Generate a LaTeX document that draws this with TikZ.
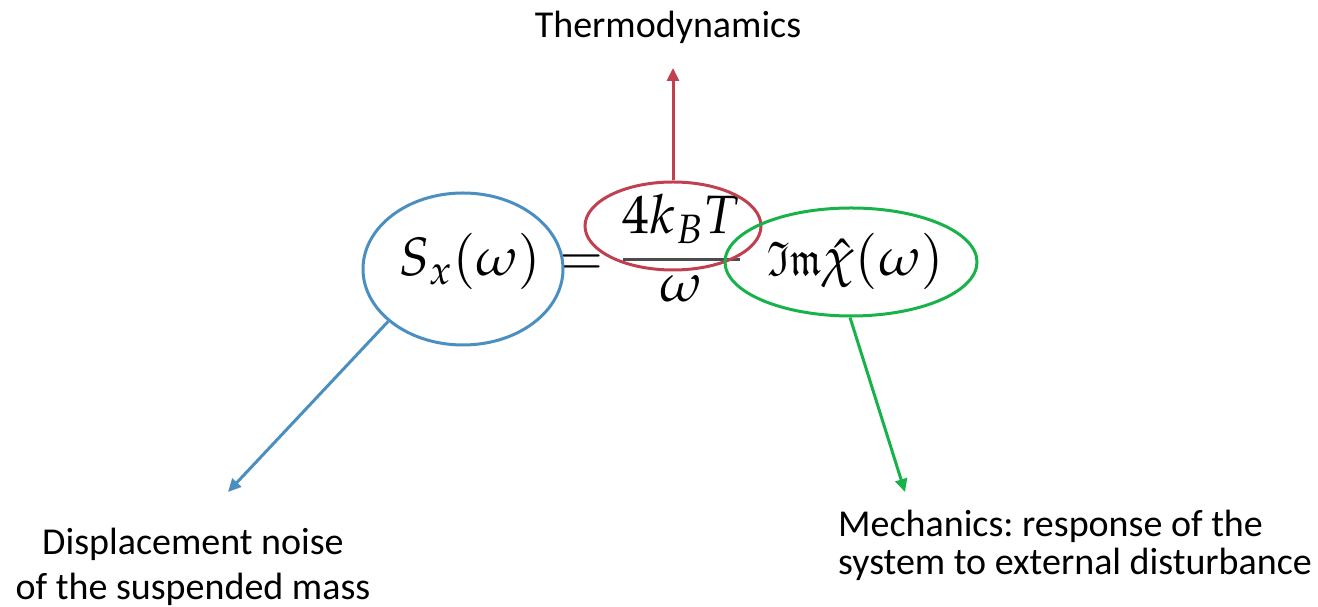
\documentclass[tikz,border=0pt]{standalone}
\usepackage{amsmath}
\usepackage{amsfonts}
\usepackage{mathpazo}
\usepackage{graphicx}
\usepackage{fontspec}
\setmainfont{Carlito}
\frenchspacing
\usetikzlibrary{arrows.meta,shapes.geometric}
\DeclareFontFamily{U}{euf}{}
\DeclareFontShape{U}{euf}{m}{n}{<-6>eufm5<6-8>eufm7<8->eufm10}{}
\definecolor{eqblue}{RGB}{74,143,192}
\definecolor{eqred}{RGB}{192,64,80}
\definecolor{eqgreen}{RGB}{24,178,74}
\tikzset{
  lbl/.style={font=\fontsize{38}{44}\selectfont, inner sep=0pt, anchor=base},
  mth/.style={font=\fontsize{54}{60}\selectfont, inner sep=0pt, anchor=base},
  ring/.style={ellipse, draw, line width=3pt, inner sep=0pt},
  arr/.style={line width=3pt, -{Triangle[length=13pt,width=12pt]}}
}
\begin{document}
\begin{tikzpicture}[x=1pt,y=1pt]
\useasboundingbox (0,0) rectangle (1318,607);
% equation
\node[mth] (S) at (470,331) {$S_x(\omega)$};
\node[mth] (eq) at (581,331) {$=$};
\node[mth] (num) at (681,373) {$4k_B T$};
\node[mth] (den) at (681,305) {$\omega$};
\draw[line width=3pt, black!70] (623,347) -- (740,347);
\node[mth] (Im) at (856,331) {$\scalebox{0.75}[0.9]{$\mathfrak{Im}$}\hat{\chi}(\omega)$};
% rings
\node[ring, eqblue, minimum width=200pt, minimum height=152pt] (blueE) at (463,338) {};
\node[ring, eqred, minimum width=176pt, minimum height=88pt] (redE) at (673,381) {};
\node[ring, eqgreen, minimum width=252pt, minimum height=108pt] (greenE) at (851,345) {};
% labels
\node[lbl] (thermo) at (668,569) {Thermodynamics};
\node[lbl] (disp1) at (193,52) {Displacement noise};
\node[lbl] (disp2) at (193,7) {of the suspended mass};
\node[lbl, anchor=base west] (mech1) at (838,70) {Mechanics: response of the};
\node[lbl, anchor=base west] (mech2) at (838,32) {system to external disturbance};
% arrows
\coordinate (redTip) at (673,539);
\coordinate (blueTip) at (228,115);
\coordinate (greenTip) at (905,115);
\draw[arr, eqred] (redE.north) -- (redTip);
\draw[arr, eqblue] (blueE.215) -- (blueTip);
\draw[arr, eqgreen] (greenE.269) -- (greenTip);
\end{tikzpicture}
\end{document}
